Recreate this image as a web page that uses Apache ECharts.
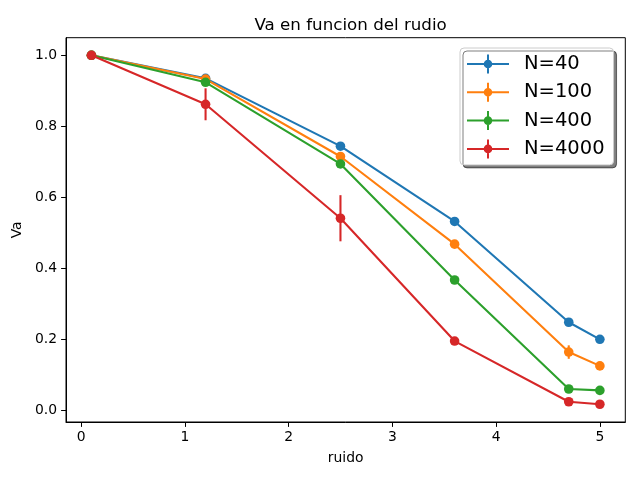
<!DOCTYPE html>
<html>
<head>
<meta charset="utf-8">
<script src="https://cdn.jsdelivr.net/npm/echarts@6/dist/echarts.min.js"></script>
<style>html,body{margin:0;padding:0;background:#fff}#c{width:640px;height:480px}</style>
</head>
<body>
<div id="c"></div>
<script>
const ruido = [0.1, 1.2, 2.5, 3.6, 4.7, 5.0];
const seriesNames = ['N=40', 'N=100', 'N=400', 'N=4000'];
const va40 = [1.0, 0.935, 0.744, 0.532, 0.248, 0.200];
const va100 = [1.0, 0.933, 0.715, 0.468, 0.164, 0.125];
const va400 = [1.0, 0.924, 0.694, 0.367, 0.060, 0.056];
const va4000 = [1.0, 0.862, 0.541, 0.195, 0.024, 0.017];
const err40 = [0, 0.004, 0.004, 0.004, 0.004, 0.003];
const err100 = [0, 0.004, 0.005, 0.005, 0.019, 0.004];
const err400 = [0, 0.004, 0.005, 0.005, 0.004, 0.003];
const err4000 = [0, 0.045, 0.065, 0.005, 0.004, 0.003];
const xTicks = [0, 1, 2, 3, 4, 5];
const yTicks = [0.0, 0.2, 0.4, 0.6, 0.8, 1.0];
const colors = ['#1f77b4', '#ff7f0e', '#2ca02c', '#d62728'];

const vals = [va40, va100, va400, va4000];
const errs = [err40, err100, err400, err4000];
const FONT = 'DejaVu Sans';

const series = [];
vals.forEach((v, i) => {
  series.push({
    name: seriesNames[i],
    type: 'line',
    data: ruido.map((x, j) => [x, v[j]]),
    symbol: 'circle',
    symbolSize: 9.6,
    showSymbol: true,
    lineStyle: { width: 2.08, color: colors[i] },
    itemStyle: { color: colors[i] },
    emphasis: { disabled: true },
    animation: false,
    z: 3 + i * 2
  });
  series.push({
    name: seriesNames[i],
    type: 'custom',
    data: ruido.map((x, j) => [x, v[j], errs[i][j]]),
    renderItem: function (params, api) {
      const x = api.value(0), y = api.value(1), e = api.value(2);
      const p1 = api.coord([x, y - e]);
      const p2 = api.coord([x, y + e]);
      return {
        type: 'line',
        shape: { x1: p1[0], y1: p1[1], x2: p2[0], y2: p2[1] },
        style: { stroke: colors[i], lineWidth: 2.08 }
      };
    },
    encode: { x: 0, y: 1 },
    animation: false,
    z: 3 + i * 2
  });
});

const icon = 'path://M0 8.5 h42 v2 h-42 z M20 0 h2 v19 h-2 z M16.7 9.5 a4.3 4.3 0 1 1 8.6 0 a4.3 4.3 0 1 1 -8.6 0 z';

const chart = echarts.init(document.getElementById('c'), null, { renderer: 'canvas' });
chart.setOption({
  animation: false,
  backgroundColor: '#fff',
  color: colors,
  title: {
    text: 'Va en funcion del rudio',
    left: 345.6,
    textAlign: 'center',
    top: 12,
    textStyle: { fontFamily: FONT, fontSize: 16.7, fontWeight: 'normal', color: '#000' }
  },
  legend: {
    orient: 'vertical',
    left: 460,
    top: 48,
    data: seriesNames.map((n, i) => ({ name: n, icon: icon, itemStyle: { color: colors[i] } })),
    itemWidth: 42,
    itemHeight: 19,
    itemGap: 8.3,
    padding: [6, 9, 6, 7],
    backgroundColor: '#fff',
    borderColor: '#cccccc',
    borderWidth: 1,
    borderRadius: 4,
    shadowColor: 'rgba(0,0,0,0.5)',
    shadowOffsetX: 3,
    shadowOffsetY: 3,
    shadowBlur: 0,
    textStyle: { fontFamily: FONT, fontSize: 19.5, color: '#000', padding: [0, 0, 0, 10] },
    selectedMode: false
  },
  grid: {
    left: 66, right: 14.7, top: 37.7, bottom: 58,
    show: true, borderColor: '#000', borderWidth: 1, containLabel: false
  },
  xAxis: {
    type: 'value',
    min: -0.145,
    max: 5.245,
    name: 'ruido',
    nameLocation: 'middle',
    nameGap: 29,
    nameTextStyle: { fontFamily: FONT, fontSize: 13.9, color: '#000' },
    axisLine: { show: true, onZero: false, lineStyle: { color: '#000', width: 1 } },
    axisTick: { show: true, inside: false, length: 4.9, lineStyle: { color: '#000' }, customValues: xTicks },
    axisLabel: { fontFamily: FONT, fontSize: 13.9, color: '#000', margin: 8, customValues: xTicks,
      formatter: v => String(v) },
    splitLine: { show: false }
  },
  yAxis: {
    type: 'value',
    min: -0.033,
    max: 1.0496,
    name: 'Va',
    nameLocation: 'middle',
    nameGap: 38,
    nameRotate: 90,
    nameTextStyle: { fontFamily: FONT, fontSize: 13.9, color: '#000' },
    axisLine: { show: true, onZero: false, lineStyle: { color: '#000', width: 1 } },
    axisTick: { show: true, inside: false, length: 4.9, lineStyle: { color: '#000' }, customValues: yTicks },
    axisLabel: { fontFamily: FONT, fontSize: 13.9, color: '#000', margin: 9, customValues: yTicks,
      formatter: v => v.toFixed(1) },
    splitLine: { show: false }
  },
  series: series
});
</script>
</body>
</html>
